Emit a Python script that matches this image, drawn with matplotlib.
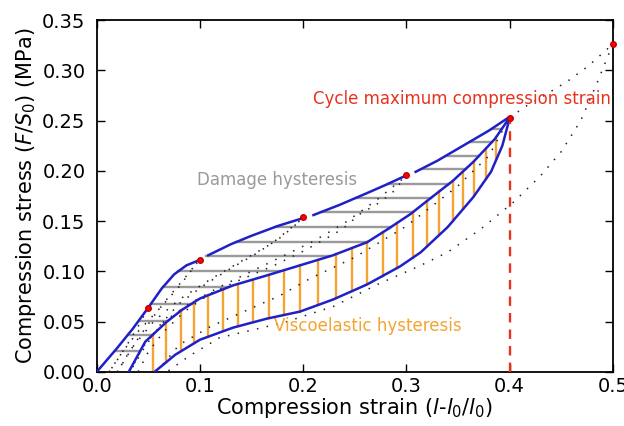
import matplotlib
matplotlib.use('Agg')
import matplotlib.pyplot as plt
import numpy as np

# 첫 하중 곡선 (사이클 최대점 근처에서 끊김)
env_a_x = [0.0, 0.02, 0.035, 0.05, 0.063, 0.075, 0.087, 0.099]
env_a_y = [0.0, 0.024, 0.043, 0.064, 0.083, 0.097, 0.106, 0.111]
env_b_x = [0.108, 0.13, 0.149, 0.175, 0.2]
env_b_y = [0.116, 0.127, 0.135, 0.145, 0.153]
env_c_x = [0.21, 0.235, 0.26, 0.28, 0.299]
env_c_y = [0.156, 0.166, 0.177, 0.186, 0.195]
env_d_x = [0.309, 0.33, 0.355, 0.38, 0.399]
env_d_y = [0.199, 0.21, 0.225, 0.24, 0.253]

# 0.4 사이클 재하중 / 제하 곡선
reload_x = [0.031, 0.047, 0.068, 0.083, 0.1, 0.132, 0.165, 0.197, 0.229, 0.262, 0.282, 0.304,
            0.32, 0.345, 0.365, 0.386, 0.4]
reload_y = [0.0, 0.030, 0.050, 0.062, 0.073, 0.086, 0.096, 0.106, 0.116, 0.129, 0.142, 0.157,
            0.170, 0.190, 0.209, 0.232, 0.253]
unload_x = [0.056, 0.076, 0.1, 0.132, 0.165, 0.197, 0.229, 0.262, 0.294, 0.314, 0.34, 0.365,
            0.382, 0.393, 0.4]
unload_y = [0.0, 0.017, 0.032, 0.044, 0.053, 0.060, 0.072, 0.087, 0.105, 0.119, 0.144, 0.174,
            0.199, 0.225, 0.252]

# 다른 사이클 (점선)
dotted_curves = [
    ([0.05, 0.04, 0.03, 0.02, 0.012], [0.064, 0.045, 0.028, 0.012, 0.0]),
    ([0.099, 0.085, 0.07, 0.055, 0.04, 0.028, 0.02], [0.111, 0.093, 0.075, 0.055, 0.033, 0.014, 0.0]),
    ([0.012, 0.025, 0.04, 0.06, 0.08, 0.099], [0.0, 0.02, 0.04, 0.062, 0.085, 0.111]),
    ([0.2, 0.18, 0.155, 0.13, 0.105, 0.08, 0.06, 0.045, 0.032], [0.153, 0.135, 0.118, 0.103, 0.087, 0.068, 0.045, 0.022, 0.0]),
    ([0.02, 0.035, 0.055, 0.08, 0.11, 0.14, 0.17, 0.2], [0.0, 0.025, 0.05, 0.072, 0.092, 0.11, 0.128, 0.153]),
    ([0.3, 0.287, 0.275, 0.255, 0.238, 0.221, 0.2, 0.17, 0.14, 0.11, 0.085, 0.065, 0.05, 0.04],
     [0.195, 0.179, 0.169, 0.157, 0.142, 0.132, 0.12, 0.105, 0.092, 0.078, 0.06, 0.04, 0.02, 0.0]),
    ([0.032, 0.045, 0.065, 0.09, 0.12, 0.15, 0.18, 0.21, 0.24, 0.27, 0.3],
     [0.0, 0.025, 0.05, 0.068, 0.085, 0.1, 0.115, 0.13, 0.148, 0.17, 0.195]),
    ([0.058, 0.08, 0.11, 0.16, 0.176, 0.207, 0.25, 0.3, 0.35, 0.38, 0.4],
     [0.0, 0.027, 0.045, 0.068, 0.075, 0.093, 0.114, 0.145, 0.185, 0.215, 0.253]),
    ([0.4, 0.417, 0.437, 0.456, 0.476, 0.5], [0.253, 0.265, 0.277, 0.289, 0.304, 0.326]),
    ([0.5, 0.485, 0.469, 0.45, 0.43, 0.404, 0.372, 0.34, 0.312, 0.272, 0.229, 0.181, 0.119, 0.09, 0.068],
     [0.326, 0.288, 0.250, 0.219, 0.195, 0.169, 0.142, 0.119, 0.105, 0.087, 0.065, 0.049, 0.034, 0.016, 0.0]),
]

peak_x = [0.05, 0.1, 0.2, 0.3, 0.4, 0.5]
peak_y = [0.064, 0.111, 0.154, 0.196, 0.253, 0.326]

gray_levels = [0.021, 0.037, 0.051, 0.068, 0.084, 0.100, 0.115, 0.129, 0.144, 0.159,
               0.173, 0.187, 0.202, 0.215, 0.229, 0.242]
orange_x = [0.055, 0.067, 0.082, 0.094, 0.108, 0.122, 0.137, 0.151, 0.167, 0.181, 0.197,
            0.214, 0.232, 0.247, 0.262, 0.277, 0.291, 0.306, 0.320, 0.332, 0.345, 0.355,
            0.366, 0.377, 0.387]

BLUE = '#2020c8'
GRAY = '#9a9a9a'
ORANGE = '#f4a431'
RED = '#e8321e'

fig = plt.figure(figsize=(6.24, 4.26), dpi=100)
ax = fig.add_axes([0.155, 0.127, 0.827, 0.826])

# 손상 히스테리시스 (회색 수평선)
env_x = env_a_x + env_b_x + env_c_x + env_d_x
env_y = env_a_y + env_b_y + env_c_y + env_d_y
for lv in gray_levels:
    xl = np.interp(lv, env_y, env_x)
    xr = np.interp(lv, reload_y, reload_x)
    ax.plot([xl, xr], [lv, lv], color=GRAY, lw=1.7, zorder=2)

# 점탄성 히스테리시스 (주황 수직선)
for xv in orange_x:
    yb = np.interp(xv, unload_x, unload_y)
    yt = np.interp(xv, reload_x, reload_y)
    ax.plot([xv, xv], [yb, yt], color=ORANGE, lw=1.7, zorder=2)

for cx, cy in dotted_curves:
    ax.plot(cx, cy, color='#222222', lw=1.1, ls=(0, (1, 5.5)), zorder=3)

for sx, sy in [(env_a_x, env_a_y), (env_b_x, env_b_y), (env_c_x, env_c_y), (env_d_x, env_d_y),
               (reload_x, reload_y), (unload_x, unload_y)]:
    ax.plot(sx, sy, color=BLUE, lw=1.8, zorder=4)

ax.plot([0.4, 0.4], [0, 0.253], color=RED, lw=1.7, ls=(0, (4, 3)), zorder=4)
ax.plot(peak_x, peak_y, 'o', color='red', ms=4, mec='#c00000', zorder=5, clip_on=False)

ax.text(0.175, 0.191, 'Damage hysteresis', color=GRAY, fontsize=12, ha='center', va='center')
ax.text(0.263, 0.046, 'Viscoelastic hysteresis', color=ORANGE, fontsize=12, ha='center', va='center')
ax.text(0.354, 0.271, 'Cycle maximum compression strain', color=RED, fontsize=12, ha='center', va='center')

ax.set_xlim(0, 0.5)
ax.set_ylim(0, 0.35)
ax.set_xticks(np.arange(0, 0.51, 0.1))
ax.set_yticks(np.arange(0, 0.351, 0.05))
ax.set_xticklabels(['0.0', '0.1', '0.2', '0.3', '0.4', '0.5'])
ax.set_yticklabels(['0.00', '0.05', '0.10', '0.15', '0.20', '0.25', '0.30', '0.35'])
ax.tick_params(direction='in', top=True, right=True, length=6, width=1, labelsize=14)
ax.tick_params(axis='x', pad=4)
ax.tick_params(axis='y', pad=8)
for sp in ax.spines.values():
    sp.set_linewidth(1.3)

ax.set_xlabel(r'Compression strain ($l$-$l_0$/$l_0$)', fontsize=15, labelpad=0)
ax.set_ylabel(r'Compression stress ($F/S_0$) (MPa)', fontsize=15, labelpad=3)

fig.savefig('out.png', dpi=100)
